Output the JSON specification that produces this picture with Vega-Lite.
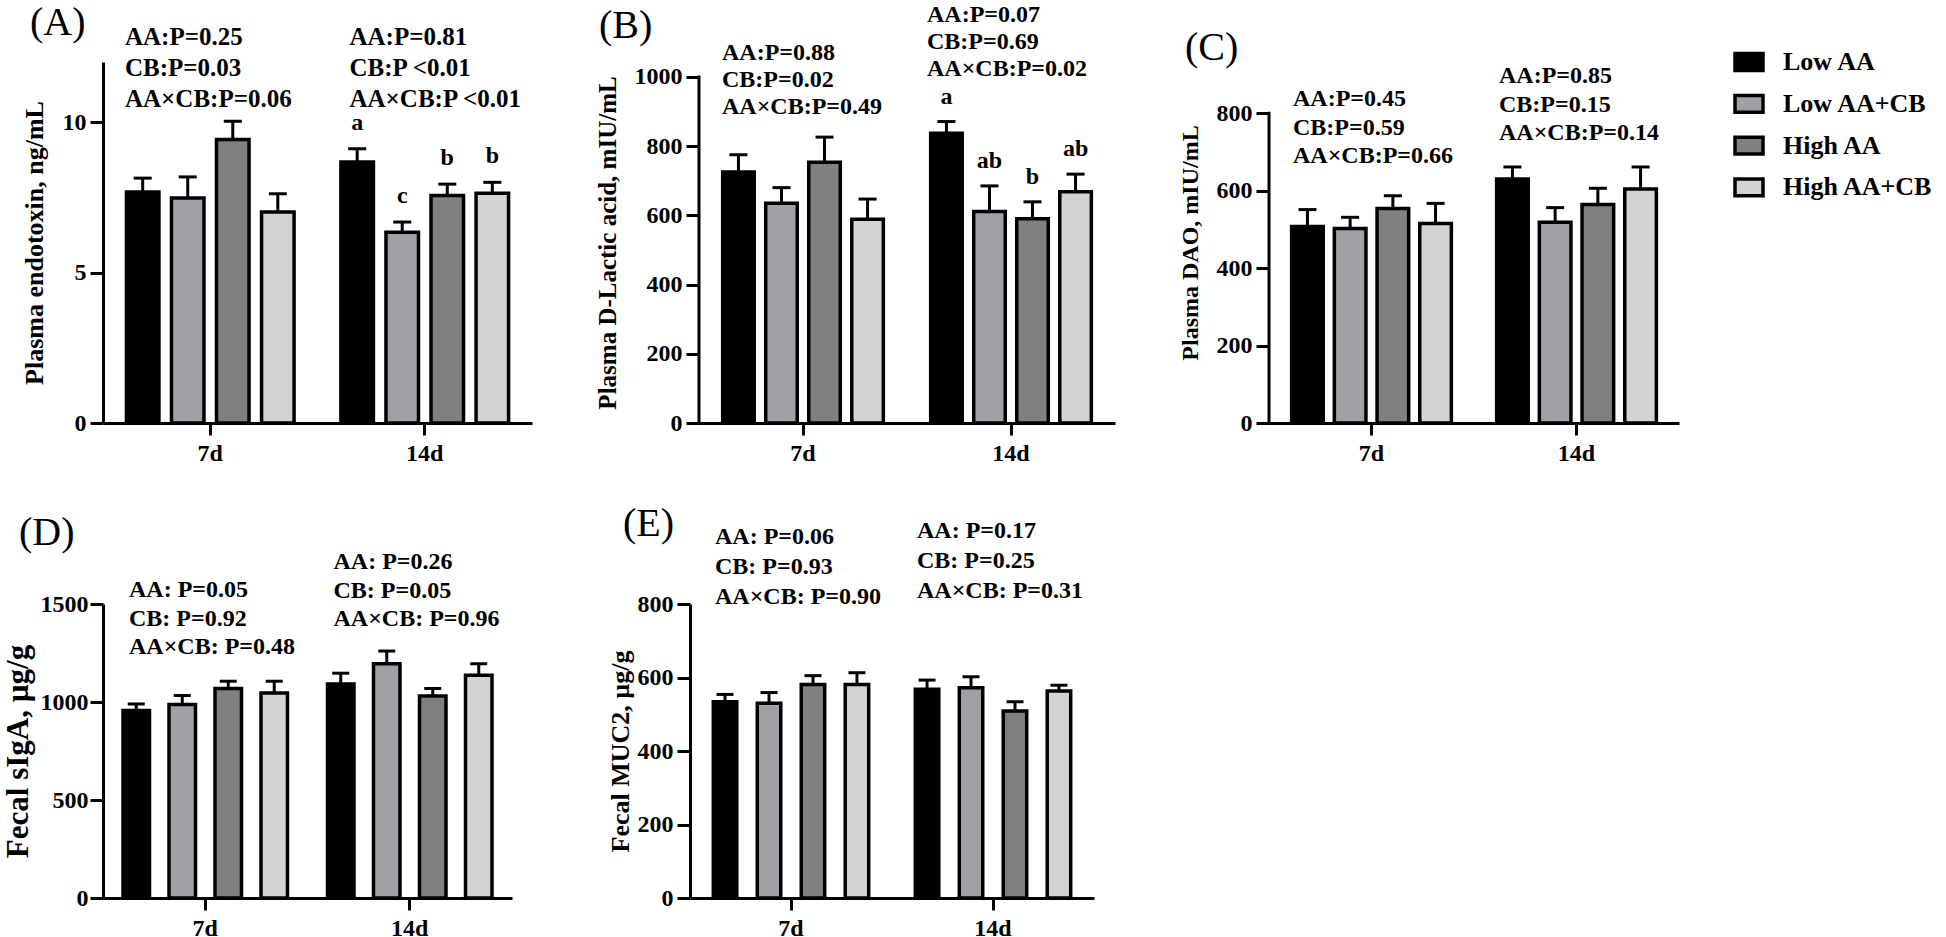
{
"$schema": "https://vega.github.io/schema/vega-lite/v6.json",
"background": "white",
"padding": {"left": 2, "top": 2, "right": 30, "bottom": 2},
"config": {
  "view": {"stroke": null},
  "font": "Liberation Serif",
  "axis": {"grid": false, "domainColor": "black", "domainWidth": 3, "tickColor": "black", "tickWidth": 3, "labelColor": "black", "labelFont": "Liberation Serif", "labelFontWeight": "bold", "labelFontSize": 24, "titleFont": "Liberation Serif", "titleFontWeight": "bold", "titleColor": "black"},
  "axisY": {"tickSize": 13, "labelPadding": 4, "titlePadding": 14, "format": "d"},
  "axisX": {"tickSize": 12, "labelPadding": 6, "labelAngle": 0},
  "title": {"font": "Liberation Serif", "fontWeight": "normal", "fontSize": 40, "anchor": "start", "frame": "bounds", "color": "black"},
  "text": {"font": "Liberation Serif", "fontWeight": "bold", "fontSize": 24, "color": "black"}
},
"datasets": {
  "bars": [
    {"p":"A","t":"7d","g":"Low AA","m":7.68,"e":8.14,"l":""},
    {"p":"A","t":"7d","g":"Low AA+CB","m":7.48,"e":8.18,"l":""},
    {"p":"A","t":"7d","g":"High AA","m":9.42,"e":10.03,"l":""},
    {"p":"A","t":"7d","g":"High AA+CB","m":7.01,"e":7.62,"l":""},
    {"p":"A","t":"14d","g":"Low AA","m":8.68,"e":9.12,"l":"a"},
    {"p":"A","t":"14d","g":"Low AA+CB","m":6.34,"e":6.68,"l":"c"},
    {"p":"A","t":"14d","g":"High AA","m":7.56,"e":7.94,"l":"b"},
    {"p":"A","t":"14d","g":"High AA+CB","m":7.64,"e":8.0,"l":"b"},
    {"p":"B","t":"7d","g":"Low AA","m":725,"e":775,"l":""},
    {"p":"B","t":"7d","g":"Low AA+CB","m":635,"e":680,"l":""},
    {"p":"B","t":"7d","g":"High AA","m":753,"e":826,"l":""},
    {"p":"B","t":"7d","g":"High AA+CB","m":589,"e":647,"l":""},
    {"p":"B","t":"14d","g":"Low AA","m":837,"e":871,"l":"a"},
    {"p":"B","t":"14d","g":"Low AA+CB","m":611,"e":685,"l":"ab"},
    {"p":"B","t":"14d","g":"High AA","m":590,"e":639,"l":"b"},
    {"p":"B","t":"14d","g":"High AA+CB","m":668,"e":719,"l":"ab"},
    {"p":"C","t":"7d","g":"Low AA","m":507,"e":551,"l":""},
    {"p":"C","t":"7d","g":"Low AA+CB","m":502,"e":531,"l":""},
    {"p":"C","t":"7d","g":"High AA","m":554,"e":587,"l":""},
    {"p":"C","t":"7d","g":"High AA+CB","m":515,"e":567,"l":""},
    {"p":"C","t":"14d","g":"Low AA","m":630,"e":661,"l":""},
    {"p":"C","t":"14d","g":"Low AA+CB","m":518,"e":556,"l":""},
    {"p":"C","t":"14d","g":"High AA","m":564,"e":606,"l":""},
    {"p":"C","t":"14d","g":"High AA+CB","m":604,"e":661,"l":""},
    {"p":"D","t":"7d","g":"Low AA","m":956,"e":990,"l":""},
    {"p":"D","t":"7d","g":"Low AA+CB","m":987,"e":1033,"l":""},
    {"p":"D","t":"7d","g":"High AA","m":1069,"e":1106,"l":""},
    {"p":"D","t":"7d","g":"High AA+CB","m":1046,"e":1106,"l":""},
    {"p":"D","t":"14d","g":"Low AA","m":1092,"e":1147,"l":""},
    {"p":"D","t":"14d","g":"Low AA+CB","m":1195,"e":1260,"l":""},
    {"p":"D","t":"14d","g":"High AA","m":1030,"e":1069,"l":""},
    {"p":"D","t":"14d","g":"High AA+CB","m":1137,"e":1195,"l":""},
    {"p":"E","t":"7d","g":"Low AA","m":534,"e":554,"l":""},
    {"p":"E","t":"7d","g":"Low AA+CB","m":530,"e":559,"l":""},
    {"p":"E","t":"7d","g":"High AA","m":581,"e":605,"l":""},
    {"p":"E","t":"7d","g":"High AA+CB","m":581,"e":613,"l":""},
    {"p":"E","t":"14d","g":"Low AA","m":568,"e":593,"l":""},
    {"p":"E","t":"14d","g":"Low AA+CB","m":572,"e":602,"l":""},
    {"p":"E","t":"14d","g":"High AA","m":509,"e":534,"l":""},
    {"p":"E","t":"14d","g":"High AA+CB","m":563,"e":579,"l":""}
  ],
  "notes": [
    {"p":"A","t":"7d","s":"AA:P=0.25\nCB:P=0.03\nAA×CB:P=0.06"},
    {"p":"A","t":"14d","s":"AA:P=0.81\nCB:P <0.01\nAA×CB:P <0.01"},
    {"p":"B","t":"7d","s":"AA:P=0.88\nCB:P=0.02\nAA×CB:P=0.49"},
    {"p":"B","t":"14d","s":"AA:P=0.07\nCB:P=0.69\nAA×CB:P=0.02"},
    {"p":"C","t":"7d","s":"AA:P=0.45\nCB:P=0.59\nAA×CB:P=0.66"},
    {"p":"C","t":"14d","s":"AA:P=0.85\nCB:P=0.15\nAA×CB:P=0.14"},
    {"p":"D","t":"7d","s":"AA: P=0.05\nCB: P=0.92\nAA×CB: P=0.48"},
    {"p":"D","t":"14d","s":"AA: P=0.26\nCB: P=0.05\nAA×CB: P=0.96"},
    {"p":"E","t":"7d","s":"AA: P=0.06\nCB: P=0.93\nAA×CB: P=0.90"},
    {"p":"E","t":"14d","s":"AA: P=0.17\nCB: P=0.25\nAA×CB: P=0.31"}
  ]
},
"spacing": 39,
"resolve": {"scale": {"xOffset": "independent"}},
"vconcat": [
 {"hconcat": [
  {"width": 429, "height": 361,
   "title": {"text": "(A)", "offset": -18, "dx": 9},
   "layer": [
    {"data": {"name": "bars"}, "transform": [{"filter": "datum.p==='A'"}],
     "encoding": {
       "x": {"field": "t", "type": "nominal", "sort": ["7d","14d"], "title": null, "scale": {"paddingInner": 0, "paddingOuter": 0}},
       "xOffset": {"field": "g", "type": "nominal", "sort": ["Low AA","Low AA+CB","High AA","High AA+CB"], "scale": {"paddingInner": 0.278, "paddingOuter": 0.52}}
     },
     "layer": [
      {"mark": {"type": "bar", "stroke": "black", "strokeWidth": 3.5},
       "encoding": {
         "y": {"field": "m", "type": "quantitative", "title": "Plasma endotoxin, ng/mL", "scale": {"domain": [0, 12], "nice": false}, "axis": {"values": [0,5,10], "titleFontSize": 26, "titlePadding": 15}},
         "fill": {"field": "g", "type": "nominal", "sort": ["Low AA","Low AA+CB","High AA","High AA+CB"], "scale": {"domain": ["Low AA","Low AA+CB","High AA","High AA+CB"], "range": ["#000000","#a0a0a5","#808080","#d3d3d3"]},
           "legend": {"title": null, "orient": "right", "offset": 70, "padding": -16, "symbolType": "M-1,-0.6H1V0.6H-1Z", "symbolSize": 784, "symbolStrokeColor": "black", "symbolStrokeWidth": 3.5, "symbolOpacity": 1, "labelFont": "Liberation Serif", "labelFontWeight": "bold", "labelFontSize": 26, "labelColor": "black", "labelOffset": 18, "rowPadding": 9.8}}
       }},
      {"mark": {"type": "rule", "strokeWidth": 3, "color": "black"},
       "encoding": {"y": {"field": "m", "type": "quantitative", "title": "Plasma endotoxin, ng/mL"}, "y2": {"field": "e"}}},
      {"mark": {"type": "tick", "thickness": 3, "size": 18, "color": "black", "opacity": 1},
       "encoding": {"y": {"field": "e", "type": "quantitative", "title": "Plasma endotoxin, ng/mL"}}},
      {"mark": {"type": "text", "dy": -26},
       "encoding": {"y": {"field": "e", "type": "quantitative", "title": "Plasma endotoxin, ng/mL"}, "text": {"field": "l"}}}
     ]},
    {"data": {"name": "notes"}, "transform": [{"filter": "datum.p==='A' && datum.t==='7d'"}],
     "mark": {"type": "text", "align": "left", "baseline": "top", "lineBreak": "\n", "lineHeight": 31, "dx": 22, "fontSize": 25},
     "encoding": {"x": {"field": "t", "type": "nominal", "sort": ["7d","14d"], "bandPosition": 0, "title": null}, "y": {"datum": 13.23}, "text": {"field": "s"}}},
    {"data": {"name": "notes"}, "transform": [{"filter": "datum.p==='A' && datum.t==='14d'"}],
     "mark": {"type": "text", "align": "left", "baseline": "top", "lineBreak": "\n", "lineHeight": 31, "dx": 32, "fontSize": 25},
     "encoding": {"x": {"field": "t", "type": "nominal", "sort": ["7d","14d"], "bandPosition": 0, "title": null}, "y": {"datum": 13.23}, "text": {"field": "s"}}}
   ]},
  {"width": 416, "height": 361,
   "title": {"text": "(B)", "offset": -43, "dx": 4},
   "layer": [
    {"data": {"name": "bars"}, "transform": [{"filter": "datum.p==='B'"}],
     "encoding": {
       "x": {"field": "t", "type": "nominal", "sort": ["7d","14d"], "title": null, "scale": {"paddingInner": 0, "paddingOuter": 0}},
       "xOffset": {"field": "g", "type": "nominal", "sort": ["Low AA","Low AA+CB","High AA","High AA+CB"], "scale": {"paddingInner": 0.267, "paddingOuter": 0.55}}
     },
     "layer": [
      {"mark": {"type": "bar", "stroke": "black", "strokeWidth": 3.5},
       "encoding": {
         "y": {"field": "m", "type": "quantitative", "title": "Plasma D-Lactic acid, mIU/mL", "scale": {"domain": [0, 1043], "nice": false}, "axis": {"values": [0,200,400,600,800,1000], "domain": false, "titleFontSize": 25}},
         "fill": {"field": "g", "type": "nominal", "sort": ["Low AA","Low AA+CB","High AA","High AA+CB"], "scale": {"domain": ["Low AA","Low AA+CB","High AA","High AA+CB"], "range": ["#000000","#a0a0a5","#808080","#d3d3d3"]},
           "legend": {"title": null, "orient": "right", "offset": 70, "padding": -16, "symbolType": "M-1,-0.6H1V0.6H-1Z", "symbolSize": 784, "symbolStrokeColor": "black", "symbolStrokeWidth": 3.5, "symbolOpacity": 1, "labelFont": "Liberation Serif", "labelFontWeight": "bold", "labelFontSize": 26, "labelColor": "black", "labelOffset": 18, "rowPadding": 9.8}}
       }},
      {"mark": {"type": "rule", "strokeWidth": 3, "color": "black"},
       "encoding": {"y": {"field": "m", "type": "quantitative", "title": "Plasma D-Lactic acid, mIU/mL"}, "y2": {"field": "e"}}},
      {"mark": {"type": "tick", "thickness": 3, "size": 18, "color": "black", "opacity": 1},
       "encoding": {"y": {"field": "e", "type": "quantitative", "title": "Plasma D-Lactic acid, mIU/mL"}}},
      {"mark": {"type": "text", "dy": -25},
       "encoding": {"y": {"field": "e", "type": "quantitative", "title": "Plasma D-Lactic acid, mIU/mL"}, "text": {"field": "l"}}}
     ]},
    {"data": {"name": "notes"}, "transform": [{"filter": "datum.p==='B' && datum.t==='7d'"}],
     "mark": {"type": "rule", "strokeWidth": 3, "color": "black", "strokeCap": "square"},
     "encoding": {"x": {"datum": "7d", "type": "nominal", "bandPosition": 0}, "y": {"datum": 0, "type": "quantitative"}, "y2": {"datum": 1000}}},
    {"data": {"name": "notes"}, "transform": [{"filter": "datum.p==='B' && datum.t==='7d'"}],
     "mark": {"type": "text", "align": "left", "baseline": "top", "lineBreak": "\n", "lineHeight": 27, "dx": 23},
     "encoding": {"x": {"field": "t", "type": "nominal", "sort": ["7d","14d"], "bandPosition": 0, "title": null}, "y": {"datum": 1104}, "text": {"field": "s"}}},
    {"data": {"name": "notes"}, "transform": [{"filter": "datum.p==='B' && datum.t==='14d'"}],
     "mark": {"type": "text", "align": "left", "baseline": "top", "lineBreak": "\n", "lineHeight": 27, "dx": 20},
     "encoding": {"x": {"field": "t", "type": "nominal", "sort": ["7d","14d"], "bandPosition": 0, "title": null}, "y": {"datum": 1213}, "text": {"field": "s"}}}
   ]},
  {"width": 410, "height": 361,
   "title": {"text": "(C)", "offset": -6, "dx": 7},
   "layer": [
    {"data": {"name": "bars"}, "transform": [{"filter": "datum.p==='C'"}],
     "encoding": {
       "x": {"field": "t", "type": "nominal", "sort": ["7d","14d"], "title": null, "scale": {"paddingInner": 0, "paddingOuter": 0}},
       "xOffset": {"field": "g", "type": "nominal", "sort": ["Low AA","Low AA+CB","High AA","High AA+CB"], "scale": {"paddingInner": 0.26, "paddingOuter": 0.53}}
     },
     "layer": [
      {"mark": {"type": "bar", "stroke": "black", "strokeWidth": 3.5},
       "encoding": {
         "y": {"field": "m", "type": "quantitative", "title": "Plasma DAO, mIU/mL", "scale": {"domain": [0, 932], "nice": false}, "axis": {"values": [0,200,400,600,800], "domain": false, "titleFontSize": 24}},
         "fill": {"field": "g", "type": "nominal", "sort": ["Low AA","Low AA+CB","High AA","High AA+CB"], "scale": {"domain": ["Low AA","Low AA+CB","High AA","High AA+CB"], "range": ["#000000","#a0a0a5","#808080","#d3d3d3"]},
           "legend": {"title": null, "orient": "right", "offset": 70, "padding": -16, "symbolType": "M-1,-0.6H1V0.6H-1Z", "symbolSize": 784, "symbolStrokeColor": "black", "symbolStrokeWidth": 3.5, "symbolOpacity": 1, "labelFont": "Liberation Serif", "labelFontWeight": "bold", "labelFontSize": 26, "labelColor": "black", "labelOffset": 18, "rowPadding": 9.8}}
       }},
      {"mark": {"type": "rule", "strokeWidth": 3, "color": "black"},
       "encoding": {"y": {"field": "m", "type": "quantitative", "title": "Plasma DAO, mIU/mL"}, "y2": {"field": "e"}}},
      {"mark": {"type": "tick", "thickness": 3, "size": 18, "color": "black", "opacity": 1},
       "encoding": {"y": {"field": "e", "type": "quantitative", "title": "Plasma DAO, mIU/mL"}}}
     ]},
    {"data": {"name": "notes"}, "transform": [{"filter": "datum.p==='C' && datum.t==='7d'"}],
     "mark": {"type": "rule", "strokeWidth": 3, "color": "black", "strokeCap": "square"},
     "encoding": {"x": {"datum": "7d", "type": "nominal", "bandPosition": 0}, "y": {"datum": 0, "type": "quantitative"}, "y2": {"datum": 800}}},
    {"data": {"name": "notes"}, "transform": [{"filter": "datum.p==='C' && datum.t==='7d'"}],
     "mark": {"type": "text", "align": "left", "baseline": "top", "lineBreak": "\n", "lineHeight": 28.5, "dx": 24},
     "encoding": {"x": {"field": "t", "type": "nominal", "sort": ["7d","14d"], "bandPosition": 0, "title": null}, "y": {"datum": 867}, "text": {"field": "s"}}},
    {"data": {"name": "notes"}, "transform": [{"filter": "datum.p==='C' && datum.t==='14d'"}],
     "mark": {"type": "text", "align": "left", "baseline": "top", "lineBreak": "\n", "lineHeight": 28.5, "dx": 25},
     "encoding": {"x": {"field": "t", "type": "nominal", "sort": ["7d","14d"], "bandPosition": 0, "title": null}, "y": {"datum": 926}, "text": {"field": "s"}}}
   ]}
 ], "spacing": 63, "align": "each", "resolve": {"scale": {"xOffset": "independent"}}},
 {"hconcat": [
  {"width": 409, "height": 294,
   "title": {"text": "(D)", "offset": -3, "dx": 17},
   "layer": [
    {"data": {"name": "bars"}, "transform": [{"filter": "datum.p==='D'"}],
     "encoding": {
       "x": {"field": "t", "type": "nominal", "sort": ["7d","14d"], "title": null, "scale": {"paddingInner": 0, "paddingOuter": 0}},
       "xOffset": {"field": "g", "type": "nominal", "sort": ["Low AA","Low AA+CB","High AA","High AA+CB"], "scale": {"paddingInner": 0.424, "paddingOuter": 0.435}}
     },
     "layer": [
      {"mark": {"type": "bar", "stroke": "black", "strokeWidth": 3.5},
       "encoding": {
         "y": {"field": "m", "type": "quantitative", "title": "Fecal sIgA, µg/g", "scale": {"domain": [0, 1500], "nice": false}, "axis": {"values": [0,500,1000,1500], "titleFontSize": 31, "titlePadding": 6, "labelPadding": 2}},
         "fill": {"field": "g", "type": "nominal", "sort": ["Low AA","Low AA+CB","High AA","High AA+CB"], "scale": {"domain": ["Low AA","Low AA+CB","High AA","High AA+CB"], "range": ["#000000","#a0a0a5","#808080","#d3d3d3"]},
           "legend": {"title": null, "orient": "right", "offset": 70, "padding": -16, "symbolType": "M-1,-0.6H1V0.6H-1Z", "symbolSize": 784, "symbolStrokeColor": "black", "symbolStrokeWidth": 3.5, "symbolOpacity": 1, "labelFont": "Liberation Serif", "labelFontWeight": "bold", "labelFontSize": 26, "labelColor": "black", "labelOffset": 18, "rowPadding": 9.8}}
       }},
      {"mark": {"type": "rule", "strokeWidth": 3, "color": "black"},
       "encoding": {"y": {"field": "m", "type": "quantitative", "title": "Fecal sIgA, µg/g"}, "y2": {"field": "e"}}},
      {"mark": {"type": "tick", "thickness": 3, "size": 17, "color": "black", "opacity": 1},
       "encoding": {"y": {"field": "e", "type": "quantitative", "title": "Fecal sIgA, µg/g"}}}
     ]},
    {"data": {"name": "notes"}, "transform": [{"filter": "datum.p==='D' && datum.t==='7d'"}],
     "mark": {"type": "text", "align": "left", "baseline": "top", "lineBreak": "\n", "lineHeight": 28.5, "dx": 26},
     "encoding": {"x": {"field": "t", "type": "nominal", "sort": ["7d","14d"], "bandPosition": 0, "title": null}, "y": {"datum": 1632}, "text": {"field": "s"}}},
    {"data": {"name": "notes"}, "transform": [{"filter": "datum.p==='D' && datum.t==='14d'"}],
     "mark": {"type": "text", "align": "left", "baseline": "top", "lineBreak": "\n", "lineHeight": 28.5, "dx": 26},
     "encoding": {"x": {"field": "t", "type": "nominal", "sort": ["7d","14d"], "bandPosition": 0, "title": null}, "y": {"datum": 1775}, "text": {"field": "s"}}}
   ]},
  {"width": 404, "height": 294,
   "title": {"text": "(E)", "offset": -25, "dx": 16},
   "layer": [
    {"data": {"name": "bars"}, "transform": [{"filter": "datum.p==='E'"}],
     "encoding": {
       "x": {"field": "t", "type": "nominal", "sort": ["7d","14d"], "title": null, "scale": {"paddingInner": 0, "paddingOuter": 0}},
       "xOffset": {"field": "g", "type": "nominal", "sort": ["Low AA","Low AA+CB","High AA","High AA+CB"], "scale": {"paddingInner": 0.466, "paddingOuter": 0.53}}
     },
     "layer": [
      {"mark": {"type": "bar", "stroke": "black", "strokeWidth": 3.5},
       "encoding": {
         "y": {"field": "m", "type": "quantitative", "title": "Fecal MUC2, µg/g", "scale": {"domain": [0, 800], "nice": false}, "axis": {"values": [0,200,400,600,800], "titleFontSize": 26, "titlePadding": 4}},
         "fill": {"field": "g", "type": "nominal", "sort": ["Low AA","Low AA+CB","High AA","High AA+CB"], "scale": {"domain": ["Low AA","Low AA+CB","High AA","High AA+CB"], "range": ["#000000","#a0a0a5","#808080","#d3d3d3"]},
           "legend": {"title": null, "orient": "right", "offset": 70, "padding": -16, "symbolType": "M-1,-0.6H1V0.6H-1Z", "symbolSize": 784, "symbolStrokeColor": "black", "symbolStrokeWidth": 3.5, "symbolOpacity": 1, "labelFont": "Liberation Serif", "labelFontWeight": "bold", "labelFontSize": 26, "labelColor": "black", "labelOffset": 18, "rowPadding": 9.8}}
       }},
      {"mark": {"type": "rule", "strokeWidth": 3, "color": "black"},
       "encoding": {"y": {"field": "m", "type": "quantitative", "title": "Fecal MUC2, µg/g"}, "y2": {"field": "e"}}},
      {"mark": {"type": "tick", "thickness": 3, "size": 17, "color": "black", "opacity": 1},
       "encoding": {"y": {"field": "e", "type": "quantitative", "title": "Fecal MUC2, µg/g"}}}
     ]},
    {"data": {"name": "notes"}, "transform": [{"filter": "datum.p==='E' && datum.t==='7d'"}],
     "mark": {"type": "text", "align": "left", "baseline": "top", "lineBreak": "\n", "lineHeight": 30, "dx": 25},
     "encoding": {"x": {"field": "t", "type": "nominal", "sort": ["7d","14d"], "bandPosition": 0, "title": null}, "y": {"datum": 1014}, "text": {"field": "s"}}},
    {"data": {"name": "notes"}, "transform": [{"filter": "datum.p==='E' && datum.t==='14d'"}],
     "mark": {"type": "text", "align": "left", "baseline": "top", "lineBreak": "\n", "lineHeight": 30, "dx": 25},
     "encoding": {"x": {"field": "t", "type": "nominal", "sort": ["7d","14d"], "bandPosition": 0, "title": null}, "y": {"datum": 1030}, "text": {"field": "s"}}}
   ]}
 ], "spacing": 95, "align": "each", "resolve": {"scale": {"xOffset": "independent"}}}
]
}
